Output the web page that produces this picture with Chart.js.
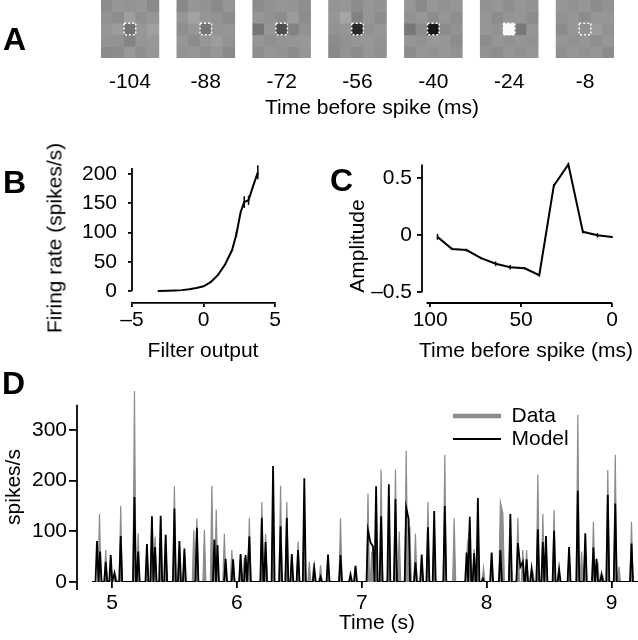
<!DOCTYPE html>
<html>
<head>
<meta charset="utf-8">
<script src="https://cdn.jsdelivr.net/npm/chart.js@4.4.1/dist/chart.umd.min.js"></script>
<style>
  html, body { margin: 0; padding: 0; background: #fff; }
  #fig { position: relative; width: 638px; height: 640px; overflow: hidden;
         font-family: 'Liberation Sans', Arial, sans-serif; color: #000; }
  #fig canvas { position: absolute; }
  .lbl { position: absolute; font-size: 21px; line-height: 1; white-space: nowrap; }
  .ctr { transform: translateX(-50%); }
  .rot { transform: translate(-50%, -50%) rotate(-90deg); }
  .panel { position: absolute; font-size: 32px; font-weight: bold; line-height: 1; }
</style>
</head>
<body>
<div id="fig">
  <canvas id="chartA" width="638" height="125" style="left:0;top:0"></canvas>
  <canvas id="chartB" width="320" height="230" style="left:0;top:140px"></canvas>
  <canvas id="chartC" width="318" height="230" style="left:320px;top:140px"></canvas>
  <canvas id="chartD" width="638" height="270" style="left:0;top:370px"></canvas>

  <div class="panel" style="left:3px;top:23px">A</div>
  <div class="panel" style="left:3px;top:166px">B</div>
  <div class="panel" style="left:330px;top:164px">C</div>
  <div class="panel" style="left:2px;top:367px">D</div>

  <div class="lbl ctr" style="left:372px;top:96px">Time before spike (ms)</div>
  <div class="lbl ctr" style="left:203px;top:339px">Filter output</div>
  <div class="lbl rot" style="left:54px;top:238px">Firing rate (spikes/s)</div>
  <div class="lbl ctr" style="left:526px;top:339px">Time before spike (ms)</div>
  <div class="lbl rot" style="left:356px;top:246px">Amplitude</div>
  <div class="lbl rot" style="left:12px;top:487px">spikes/s</div>
  <div class="lbl ctr" style="left:377px;top:611px">Time (s)</div>
</div>

<script>
// ---------- Panel A: spatial filter frames (5x5 gray levels, top row first)
const frameLabels = ['-104', '-88', '-72', '-56', '-40', '-24', '-8'];
const frameGrays = [
  [[140,150,148,150,138],[146,140,158,144,150],[150,156,115,150,160],[148,146,132,150,152],[138,140,152,142,150]],
  [[136,150,146,138,150],[150,162,150,146,140],[142,150,118,148,150],[150,140,150,156,146],[146,150,144,150,138]],
  [[140,146,150,148,142],[150,146,140,156,140],[118,150,78,130,146],[150,144,148,150,152],[142,150,146,140,150]],
  [[148,150,140,150,146],[150,165,130,150,140],[146,150,40,146,150],[140,146,150,152,146],[136,146,140,150,144]],
  [[150,138,150,146,150],[146,150,140,150,142],[120,140,22,140,146],[150,146,152,150,140],[140,150,146,150,146]],
  [[146,150,142,150,146],[150,140,148,150,140],[150,146,250,120,150],[140,150,146,150,146],[146,140,150,144,150]],
  [[150,146,150,140,146],[146,150,140,150,150],[140,150,145,156,146],[150,146,150,142,150],[144,150,146,150,140]]
];

// ---------- Panel B: static nonlinearity
const nlInput = [-3.2, -2.5, -2, -1.5, -1, -0.5, 0, 0.5, 1, 1.5, 2, 2.3, 2.6, 2.85, 3.15, 3.45, 3.8];
const nlRate  = [0, 0.5, 1, 1.5, 3, 5, 8, 15, 27, 45, 70, 97, 135, 152, 155, 178, 203];
const nlError = [0, 0, 0, 0, 0, 0, 0, 0, 0, 0, 0, 5, 0, 10, 8, 0, 12];
const ticksBx = [-5, 0, 5];
const ticksBy = [0, 50, 100, 150, 200];

// ---------- Panel C: temporal filter
const filterTime  = [96, 88, 80, 72, 64, 56, 48, 40, 32, 24, 16, 8, 0];
const filterAmp   = [-0.014, -0.12, -0.13, -0.2, -0.25, -0.28, -0.29, -0.35, 0.435, 0.62, 0.03, 0.0, -0.015];
const filterError = [0.025, 0.01, 0.012, 0.01, 0.02, 0.02, 0.01, 0.012, 0.015, 0.015, 0.012, 0.02, 0.008];
const ticksCx = [0, 50, 100];
const ticksCy = [-0.5, 0, 0.5];

// ---------- Panel D: firing rate, data vs model (peak times in s, rates in spikes/s)
const dataTimes = [4.84, 4.90, 4.95, 4.99, 5.03, 5.07, 5.18, 5.21, 5.28, 5.32, 5.345, 5.39, 5.43, 5.50, 5.54,
  5.58, 5.655, 5.68, 5.74, 5.80, 5.835, 5.90, 5.96, 6.03, 6.06, 6.10, 6.20, 6.23, 6.29, 6.35, 6.40, 6.44,
  6.49, 6.54, 6.58, 6.615, 6.67, 6.73, 6.83, 6.91, 6.95, 7.05, 7.08, 7.115, 7.155, 7.217, 7.27, 7.30, 7.356,
  7.385, 7.43, 7.48, 7.53, 7.58, 7.665, 7.74, 7.845, 7.865, 7.90, 7.93, 7.975, 8.04, 8.11, 8.13, 8.19, 8.25,
  8.29, 8.32, 8.37, 8.41, 8.45, 8.475, 8.54, 8.58, 8.66, 8.73, 8.76, 8.79, 8.855, 8.89, 8.93, 8.97, 9.03,
  9.06, 9.16, 9.25];
const dataRates = [0, 134, 63, 50, 12, 150, 377, 96, 70, 125, 90, 128, 90, 189, 75,
  60, 102, 126, 103, 190, 143, 95, 63, 50, 48, 127, 158, 95, 140, 190, 158, 50,
  80, 150, 40, 38, 33, 45, 126, 12, 32, 174, 60, 140, 222, 150, 222, 100, 259,
  110, 95, 45, 158, 110, 251, 126, 70, 110, 65, 120, 28, 40, 158, 135, 100, 127,
  63, 63, 20, 212, 134, 80, 142, 20, 50, 330, 60, 75, 119, 40, 12, 221, 251,
  30, 119, 0];
const modelTimes = [4.84, 4.88, 4.905, 4.95, 4.99, 5.02, 5.07, 5.18, 5.21, 5.28, 5.32, 5.345, 5.39, 5.43,
  5.50, 5.54, 5.58, 5.68, 5.82, 5.845, 5.91, 5.97, 6.03, 6.07, 6.10, 6.20, 6.23, 6.29, 6.35, 6.40, 6.44,
  6.49, 6.54, 6.62, 6.67, 6.73, 6.83, 6.91, 6.95, 7.05, 7.07, 7.09, 7.115, 7.155, 7.217, 7.27, 7.356,
  7.375, 7.43, 7.48, 7.53, 7.58, 7.665, 7.84, 7.865, 7.90, 7.93, 7.97, 8.04, 8.11, 8.19, 8.25, 8.27,
  8.29, 8.32, 8.36, 8.41, 8.45, 8.475, 8.54, 8.58, 8.66, 8.73, 8.79, 8.855, 8.88, 8.92, 8.97, 9.03,
  9.16, 9.25];
const modelRates = [0, 81, 60, 40, 53, 18, 91, 168, 60, 75, 130, 69, 131, 93,
  145, 81, 66, 107, 84, 73, 46, 45, 55, 53, 90, 127, 79, 229, 110, 127, 55,
  63, 205, 27, 10, 54, 53, 15, 32, 102, 78, 70, 189, 130, 193, 164, 147,
  125, 39, 54, 108, 140, 150, 58, 129, 57, 166, 7, 58, 63, 134, 77, 30,
  40, 45, 26, 104, 79, 91, 101, 26, 69, 180, 96, 68, 46, 15, 172, 155,
  76, 0];
const ticksDx = [5, 6, 7, 8, 9];
const ticksDy = [0, 100, 200, 300];
const seriesNames = ['Data', 'Model'];

// ---------- shared look
const INK = '#000';
const DATA_GRAY = '#8c8c8c';
const AXIS_W = 1.8;
const FRAME_GAP = 1.55;   // gap between frames, in cells
const SPIKE_HW = 0.012;   // half width of a rate peak at its base, s
Chart.defaults.font.family = "'Liberation Sans', Arial, sans-serif";
Chart.defaults.font.size = 21;
Chart.defaults.color = INK;

const minus = v => (v < 0 ? '\u2013' + Math.abs(v) : String(v));
const setTicks = list => scale => { scale.ticks = list.map(v => ({ value: v })); };
const tickMarks = len => ({ display: true, drawOnChartArea: false, drawTicks: true, tickLength: len, color: INK, lineWidth: AXIS_W });
const frameStart = f => f * (5 + FRAME_GAP);

// axis lines that span only part of the plot area
const axisLines = {
  id: 'axisLines',
  afterDraw(chart, args, opts) {
    const { ctx, chartArea, scales } = chart;
    ctx.save();
    ctx.strokeStyle = INK;
    ctx.lineWidth = AXIS_W;
    if (opts.y) {
      ctx.beginPath();
      ctx.moveTo(chartArea.left, scales.y.getPixelForValue(opts.y[0]));
      ctx.lineTo(chartArea.left, scales.y.getPixelForValue(opts.y[1]));
      ctx.stroke();
    }
    if (opts.x) {
      ctx.beginPath();
      ctx.moveTo(scales.x.getPixelForValue(opts.x[0]), chartArea.bottom);
      ctx.lineTo(scales.x.getPixelForValue(opts.x[1]), chartArea.bottom);
      ctx.stroke();
    }
    ctx.restore();
  }
};

// vertical error bars from dataset.errors
const errorBars = {
  id: 'errorBars',
  afterDatasetsDraw(chart) {
    const { ctx, scales: { x, y } } = chart;
    chart.data.datasets.forEach(ds => {
      if (!ds.errors) return;
      ctx.save();
      ctx.strokeStyle = ds.borderColor;
      ctx.lineWidth = 1.5;
      ds.data.forEach((p, i) => {
        const e = ds.errors[i];
        if (!e) return;
        const px = x.getPixelForValue(p.x);
        ctx.beginPath();
        ctx.moveTo(px, y.getPixelForValue(p.y - e));
        ctx.lineTo(px, y.getPixelForValue(p.y + e));
        ctx.stroke();
      });
      ctx.restore();
    });
  }
};

// dashed white square around the centre pixel of each frame
const centerBox = {
  id: 'centerBox',
  afterDatasetsDraw(chart) {
    const { ctx, scales: { x, y } } = chart;
    ctx.save();
    ctx.strokeStyle = '#fff';
    ctx.lineWidth = 1.5;
    ctx.setLineDash([2, 2]);
    frameLabels.forEach((_, f) => {
      const l = x.getPixelForValue(frameStart(f) + 2);
      const r = x.getPixelForValue(frameStart(f) + 3);
      const t = y.getPixelForValue(3);
      const b = y.getPixelForValue(2);
      ctx.strokeRect(l, t, r - l, b - t);
    });
    ctx.restore();
  }
};

// put the legend at a fixed spot inside the plot
const legendSpot = {
  id: 'legendSpot',
  beforeDraw(chart, args, opts) {
    const lg = chart.legend;
    if (!lg || opts.left === undefined) return;
    lg.left = opts.left;
    lg.top = opts.top;
    lg.right = opts.left + 200;
    lg.bottom = opts.top + 80;
  }
};

const baseOptions = () => ({
  responsive: false,
  animation: false,
  events: [],
  plugins: { legend: { display: false }, tooltip: { enabled: false } }
});

// ---------- Panel A
function renderFrames() {
  const datasets = [0, 1, 2, 3, 4].map(row => {
    const data = [];
    const colors = [];
    frameGrays.forEach((frame, f) => {
      frame[row].forEach((g, c) => {
        data.push({ x: frameStart(f) + c + 0.5, y: [4 - row, 5 - row] });
        colors.push(`rgb(${g},${g},${g})`);
      });
    });
    return { data, backgroundColor: colors, borderWidth: 0, grouped: false,
             barPercentage: 1, categoryPercentage: 1 };
  });
  const opts = baseOptions();
  opts.layout = { padding: { left: 101, right: 24, top: 0, bottom: 0 } };
  opts.scales = {
    x: {
      type: 'linear', offset: false, min: 0, max: frameStart(6) + 5,
      grid: { display: false }, border: { display: false },
      afterBuildTicks: scale => { scale.ticks = frameLabels.map((_, f) => ({ value: frameStart(f) + 2.5 })); },
      ticks: { autoSkip: false, maxRotation: 0, padding: 4, callback: (v, i) => frameLabels[i] },
      afterFit: scale => { scale.height = 67; }
    },
    y: { display: false, min: 0, max: 5 }
  };
  new Chart(document.getElementById('chartA'), { type: 'bar', data: { datasets }, options: opts, plugins: [centerBox] });
}

// ---------- Panel B
function renderNonlinearity() {
  const opts = baseOptions();
  opts.layout = { padding: { left: 0, right: 45, top: 12, bottom: 0 } };
  opts.plugins.axisLines = { y: [0, 210] };
  opts.scales = {
    x: {
      type: 'linear', min: -5, max: 5,
      grid: tickMarks(4), border: { display: true, color: INK, width: AXIS_W },
      afterBuildTicks: setTicks(ticksBx),
      ticks: { padding: 1, callback: minus },
      afterFit: scale => { scale.height = 67; }
    },
    y: {
      type: 'linear', min: -20.5, max: 217.7,
      grid: tickMarks(4), border: { display: false },
      afterBuildTicks: setTicks(ticksBy),
      ticks: { padding: 11, callback: minus },
      afterFit: scale => { scale.width = 132; }
    }
  };
  new Chart(document.getElementById('chartB'), {
    type: 'line',
    data: { datasets: [{
      data: nlInput.map((v, i) => ({ x: v, y: nlRate[i] })), errors: nlError,
      borderColor: INK, borderWidth: 2, pointRadius: 0, tension: 0, fill: false
    }] },
    options: opts,
    plugins: [axisLines, errorBars]
  });
}

// ---------- Panel C
function renderFilter() {
  const opts = baseOptions();
  opts.layout = { padding: { left: 0, right: 26, top: 10, bottom: 0 } };
  opts.plugins.axisLines = { x: [102, 0], y: [-0.5, 0.62] };
  opts.scales = {
    x: {
      type: 'linear', reverse: true, min: 0, max: 104.5,
      grid: tickMarks(4), border: { display: false },
      afterBuildTicks: setTicks(ticksCx),
      ticks: { padding: 1, callback: minus },
      afterFit: scale => { scale.height = 67; }
    },
    y: {
      type: 'linear', min: -0.594, max: 0.681,
      grid: tickMarks(5), border: { display: false },
      afterBuildTicks: setTicks(ticksCy),
      ticks: { padding: 5, callback: minus },
      afterFit: scale => { scale.width = 102; }
    }
  };
  new Chart(document.getElementById('chartC'), {
    type: 'line',
    data: { datasets: [{
      data: filterTime.map((t, i) => ({ x: t, y: filterAmp[i] })), errors: filterError,
      borderColor: INK, borderWidth: 2, pointRadius: 0, tension: 0, fill: false
    }] },
    options: opts,
    plugins: [axisLines, errorBars]
  });
}

// ---------- Panel D
// each peak rises from and falls back to zero unless the next one follows closely
function spikeTrace(times, rates, hw) {
  const pts = [];
  times.forEach((t, i) => {
    if (i > 0 && t - times[i - 1] > 2 * hw) pts.push({ x: t - hw, y: 0 });
    pts.push({ x: t, y: rates[i] });
    if (i < times.length - 1 && times[i + 1] - t > 2 * hw) pts.push({ x: t + hw, y: 0 });
  });
  return pts;
}

function renderRates() {
  const opts = baseOptions();
  opts.layout = { padding: { left: 0, right: 0, top: 17, bottom: 0 } };
  opts.plugins.axisLines = { y: [-16, 350] };
  opts.plugins.legendSpot = { left: 451, top: 33.5 };
  opts.plugins.legend = {
    display: true,
    position: 'chartArea',
    align: 'start',
    labels: {
      usePointStyle: true, pointStyle: 'line', pointStyleWidth: 48, boxHeight: 21,
      padding: 2, color: INK, font: { size: 21 },
      generateLabels: chart => {
        const items = Chart.defaults.plugins.legend.labels.generateLabels(chart);
        items.sort((a, b) => a.datasetIndex - b.datasetIndex);
        items.forEach(it => { it.lineWidth = it.datasetIndex === 0 ? 4.5 : 2; });
        return items;
      }
    }
  };
  opts.scales = {
    x: {
      type: 'linear', min: 4.72, max: 9.212,
      grid: tickMarks(6), border: { display: false },
      afterBuildTicks: setTicks(ticksDx),
      ticks: { padding: 3 },
      afterFit: scale => { scale.height = 58; }
    },
    y: {
      type: 'linear', min: 0, max: 385,
      grid: tickMarks(8), border: { display: false },
      afterBuildTicks: setTicks(ticksDy),
      ticks: { padding: 2 },
      afterFit: scale => { scale.width = 77; }
    }
  };
  new Chart(document.getElementById('chartD'), {
    type: 'line',
    data: { datasets: [
      { label: seriesNames[0], data: spikeTrace(dataTimes, dataRates, SPIKE_HW), order: 2,
        borderColor: DATA_GRAY, backgroundColor: DATA_GRAY, borderWidth: 1.2, fill: 'origin',
        pointRadius: 0, tension: 0 },
      { label: seriesNames[1], data: spikeTrace(modelTimes, modelRates, SPIKE_HW), order: 1,
        borderColor: INK, backgroundColor: INK, borderWidth: 1.8, fill: false,
        pointRadius: 0, tension: 0 }
    ] },
    options: opts,
    plugins: [axisLines, legendSpot]
  });
}

renderFrames();
renderNonlinearity();
renderFilter();
renderRates();
</script>
</body>
</html>
